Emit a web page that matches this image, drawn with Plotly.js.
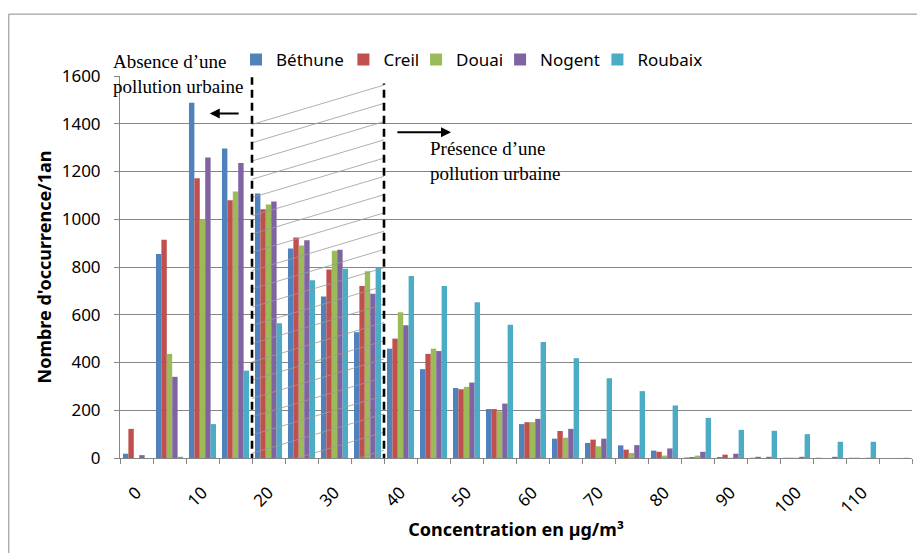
<!DOCTYPE html>
<html>
<head>
<meta charset="utf-8">
<script src="https://cdn.plot.ly/plotly-3.0.1.min.js"></script>
<style>html,body{margin:0;padding:0;background:#fff;}#chart{width:917px;height:553px;}</style>
</head>
<body>
<div id="chart"></div>
<script>
const concentrations = [0,5,10,15,20,25,30,35,40,45,50,55,60,65,70,75,80,85,90,95,100,105,110,115];
const tickValues = [0,10,20,30,40,50,60,70,80,90,100,110];
const tickLabels = ['0','10','20','30','40','50','60','70','80','90','100','110'];
const seriesNames = ['Béthune','Creil','Douai','Nogent','Roubaix'];
const bethune = [18,854,1488,1296,1108,878,676,527,458,372,293,205,142,81,63,53,31,2,4,1,1,1,1,0];
const creil   = [122,914,1172,1080,1042,924,790,720,500,436,288,205,150,113,77,35,26,4,14,5,1,0,1,0];
const douai   = [0,436,1000,1116,1062,890,868,782,610,458,298,196,150,85,49,21,10,10,1,0,1,0,0,0];
const nogent  = [12,340,1259,1236,1074,912,872,688,556,448,316,228,164,122,81,54,40,26,18,5,5,5,1,0];
const roubaix = [0,5,142,366,564,745,793,798,762,720,652,558,486,418,334,280,220,168,118,114,100,68,68,1];
const colors = ['#4F81BD','#C0504D','#9BBB59','#8064A2','#4BACC6'];
const allSeries = [bethune, creil, douai, nogent, roubaix];
// legend anchor positions (paper x)
const legendX = [0.1465, 0.2821, 0.3738, 0.4799, 0.6028];

const baseFont = 'Noto Sans, Open Sans, sans-serif';
const traces = allSeries.map((vals, i) => ({
  type: 'bar',
  name: seriesNames[i],
  x: concentrations,
  y: vals,
  marker: {color: colors[i], line: {width: 0}},
  legend: i === 0 ? 'legend' : 'legend' + (i + 1)
}));

const shapes = [];
// outer chart border
shapes.push({type:'rect', xref:'paper', yref:'paper', x0:-0.1404, x1:1.5, y0:-2, y1:1.162,
  line:{color:'#8c8c8c', width:1}, fillcolor:'rgba(0,0,0,0)', layer:'below'});
// hatch lines between 20 and 40 zone
const hatchStart = 17.5, hatchEnd = 37.5, rise = 165, spacing = 76.5, topStart = 1397;
for (let k = 0; k < 25; k++) {
  const ys = topStart - spacing * k;
  const ye = ys + rise;
  let x0 = hatchStart, y0 = ys;
  if (ys < 0) {
    x0 = hatchStart + (-ys) / rise * (hatchEnd - hatchStart);
    y0 = 0;
  }
  if (x0 >= hatchEnd || ye <= 0) continue;
  shapes.push({type:'line', xref:'x', yref:'y', x0:x0, y0:y0, x1:hatchEnd, y1:ye,
    line:{color:'#9a9a9a', width:0.8}, layer:'above'});
}
// dashed separators
shapes.push({type:'line', xref:'x', yref:'y', x0:17.5, x1:17.5, y0:-16, y1:1595,
  line:{color:'#000', width:2.6, dash:'8px,5px'}, layer:'above'});
shapes.push({type:'line', xref:'x', yref:'y', x0:37.5, x1:37.5, y0:-16, y1:1569,
  line:{color:'#000', width:2.6, dash:'8px,5px'}, layer:'above'});

const serif = 'Liberation Serif, Times New Roman, serif';
const annotations = [
  {xref:'paper', yref:'paper', x:-0.0111, y:1.005, xanchor:'left', yanchor:'middle', align:'left',
   text:'Absence d’une<br>pollution urbaine', showarrow:false,
   font:{family:serif, size:19, color:'#000'}},
  {xref:'x', yref:'y', x:44.1, y:1245, xanchor:'left', yanchor:'middle', align:'left',
   text:'Présence d’une<br>pollution urbaine', showarrow:false,
   font:{family:serif, size:19, color:'#000'}},
  {xref:'x', yref:'y', axref:'x', ayref:'y', x:11.1, y:1443, ax:15.7, ay:1443, text:'',
   showarrow:true, arrowhead:2, arrowsize:1, arrowwidth:2, arrowcolor:'#000'},
  {xref:'x', yref:'y', axref:'x', ayref:'y', x:47.65, y:1364, ax:39.3, ay:1364, text:'',
   showarrow:true, arrowhead:2, arrowsize:1, arrowwidth:2, arrowcolor:'#000'}
];

const legendBase = {orientation:'h', y:1.042, yanchor:'middle', xanchor:'left',
  bgcolor:'rgba(0,0,0,0)', borderwidth:0, font:{family:baseFont, size:17, color:'#000'}};

const layout = {
  width: 917, height: 553,
  margin: {l:120, r:5, t:76, b:95},
  paper_bgcolor:'#fff', plot_bgcolor:'#fff',
  barmode:'group', bargap:0.18, bargroupgap:0,
  font:{family:baseFont, size:17, color:'#000'},
  showlegend:true,
  legend: Object.assign({}, legendBase, {x:legendX[0]}),
  legend2: Object.assign({}, legendBase, {x:legendX[1]}),
  legend3: Object.assign({}, legendBase, {x:legendX[2]}),
  legend4: Object.assign({}, legendBase, {x:legendX[3]}),
  legend5: Object.assign({}, legendBase, {x:legendX[4]}),
  xaxis: {
    range:[-2.5, 117.5], tickmode:'array', tickvals:tickValues, ticktext:tickLabels,
    tickangle:-45, ticks:'', showgrid:false, zeroline:false,
    showline:true, linecolor:'#868686', linewidth:1,
    ticklabelstandoff:17,
    minor:{tick0:-2.5, dtick:5, ticks:'outside', ticklen:5, tickcolor:'#868686', showgrid:false},
    tickfont:{family:baseFont, size:17, color:'#000'},
    title:{text:'Concentration en µg/m³', font:{family:baseFont, size:18, color:'#000', weight:'bold'}, standoff:6}
  },
  yaxis: {
    range:[0,1600], dtick:200, tick0:0,
    showgrid:true, gridcolor:'#868686', gridwidth:1,
    zeroline:false, showline:true, linecolor:'#868686', linewidth:1,
    ticks:'outside', ticklen:5, tickcolor:'#868686',
    ticklabelstandoff:10,
    tickfont:{family:baseFont, size:17, color:'#000'},
    title:{text:"Nombre d'occurrence/1an", font:{family:baseFont, size:18, color:'#000', weight:'bold'}, standoff:5}
  },
  shapes: shapes,
  annotations: annotations
};

Plotly.newPlot('chart', traces, layout, {displayModeBar:false, staticPlot:true});
</script>
</body>
</html>
